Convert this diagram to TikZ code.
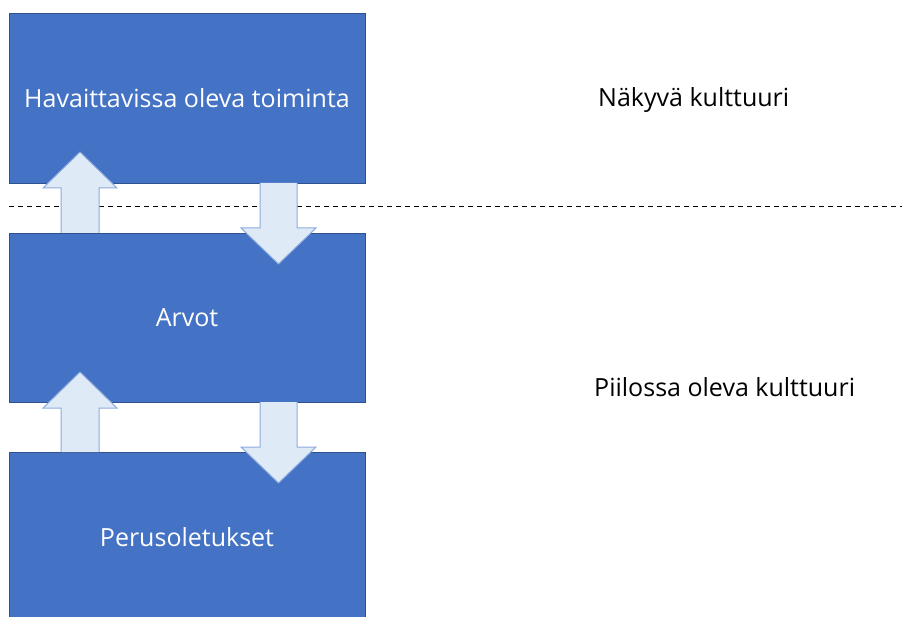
\documentclass[tikz,border=0pt]{standalone}
\usepackage{fontspec}
\setmainfont{Open Sans}
\tikzset{
  block/.style={draw=boxborder, line width=0.8pt, fill=boxfill, text=white, font=\fontsize{25}{30}\selectfont, minimum width=356pt, inner sep=0pt},
  lbl/.style={text=black, font=\fontsize{25}{30}\selectfont, anchor=west, inner sep=0pt},
  barrow/.style={draw=arrowborder, line width=1pt, fill=arrowfill, line join=miter}
}
\definecolor{boxfill}{HTML}{4472C4}
\definecolor{boxborder}{HTML}{2F528F}
\definecolor{arrowfill}{HTML}{DEEBF7}
\definecolor{arrowborder}{HTML}{8FAADC}
\begin{document}
\begin{tikzpicture}[x=1pt,y=-1pt]
\useasboundingbox (0,0) rectangle (902,617);
\node[block, minimum height=170pt] (top) at (187,98) {Havaittavissa oleva toiminta};
\node[block, minimum height=169pt] (mid) at (187,317.5) {Arvot};
\node[block, minimum height=170pt, anchor=north] (bot) at (187,452) {Perusoletukset};
\coordinate (dl) at (9,207);
\coordinate (dr) at (902,207);
\draw[dashed, line width=1pt, dash pattern=on 5pt off 4pt] (dl) -- (dr);
\draw[barrow] (61,233) -- (61,188) -- (43,188) -- (80,152) -- (117,188) -- (99,188) -- (99,233);
\draw[barrow] (260,183) -- (260,228) -- (241,228) -- (278.5,264) -- (316,228) -- (297,228) -- (297,183);
\draw[barrow] (61,452) -- (61,408) -- (43,408) -- (80,372) -- (117,408) -- (99,408) -- (99,452);
\draw[barrow] (260,402) -- (260,447) -- (241,447) -- (278.5,483) -- (316,447) -- (297,447) -- (297,402);
\node[lbl] (nak) at (598,100) {Näkyvä kulttuuri};
\node[lbl] (pii) at (594,387) {Piilossa oleva kulttuuri};
\end{tikzpicture}
\end{document}
